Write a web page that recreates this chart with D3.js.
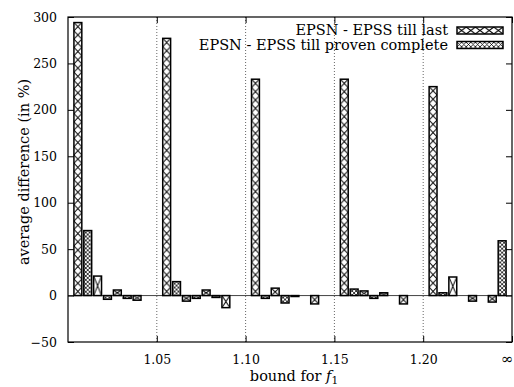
<!DOCTYPE html>
<html>
<head>
<meta charset="utf-8">
<script src="https://cdn.jsdelivr.net/npm/d3@7"></script>
<style>
body { margin: 0; background: #fff; }
text { font-family: "DejaVu Serif", "Liberation Serif", serif; fill: #000; }
</style>
</head>
<body>
<svg id="chart" width="514" height="387"></svg>
<script>
// groups along x (bound for f1), four pairs of bars in each group
var groups = ["1.05", "1.10", "1.15", "1.20", "\u221e"];
var tillLast = [
    [294, 21, 6, -5],
    [277, -6, 6, -13],
    [233, 8, -1, -9],
    [233, 5, 3, -9],
    [225, 20, -6, -7]
];
var tillProven = [
    [70, -4, -3, 0],
    [15, -3, -2, 0],
    [-3, -8, 0, 0],
    [7, -3, 0, 0],
    [3, 0, 0, 59]
];
var seriesNames = ["EPSN - EPSS till last", "EPSN - EPSS till proven complete"];
var yTicks = [-50, 0, 50, 100, 150, 200, 250, 300];

var margin = { top: 17, right: 2, bottom: 45, left: 68 };
var width = 514, height = 387;
var svg = d3.select("#chart");
var defs = svg.append("defs");

var x0 = d3.scaleBand()
    .domain(groups)
    .range([margin.left, width - margin.right])
    .padding(0);
var x1 = d3.scaleBand()
    .domain(d3.range(8))
    .range([0, x0.bandwidth()])
    .paddingInner(0.2)
    .paddingOuter(0.6);
var y = d3.scaleLinear()
    .domain([-50, 300])
    .range([height - margin.bottom, margin.top]);
// tick positions sit on the right end of each group
var xTick = d3.scalePoint()
    .domain(["start"].concat(groups))
    .range([margin.left, width - margin.right]);

var bars = [];
groups.forEach(function (g, gi) {
    for (var k = 0; k < 4; k++) {
        bars.push({ group: g, slot: 2 * k, series: 0, value: tillLast[gi][k] });
        bars.push({ group: g, slot: 2 * k + 1, series: 1, value: tillProven[gi][k] });
    }
});

function makePattern(id, px, py, w, h, series) {
    var tw = series === 0 ? w : w / 2;
    var th = series === 0 ? h : w / 2;
    var p = defs.append("pattern")
        .attr("id", id)
        .attr("patternUnits", "userSpaceOnUse")
        .attr("x", px).attr("y", py)
        .attr("width", tw).attr("height", th);
    p.append("path")
        .attr("d", "M0,0L" + tw + "," + th + "M" + tw + ",0L0," + th)
        .attr("stroke", "#000")
        .attr("stroke-width", series === 0 ? 1 : 0.8)
        .attr("fill", "none");
}

// dotted separators
svg.append("g")
    .selectAll("line")
    .data(groups.slice(0, groups.length - 1))
    .join("line")
    .attr("x1", function (d) { return xTick(d); })
    .attr("x2", function (d) { return xTick(d); })
    .attr("y1", margin.top)
    .attr("y2", height - margin.bottom)
    .attr("stroke", "#666")
    .attr("stroke-width", 1)
    .attr("stroke-dasharray", "1,2");

// zero axis
svg.append("line")
    .attr("x1", margin.left).attr("x2", width - margin.right)
    .attr("y1", y(0)).attr("y2", y(0))
    .attr("stroke", "#444")
    .attr("stroke-width", 1);

var bw = x1.bandwidth();
svg.append("g")
    .selectAll("rect")
    .data(bars.filter(function (d) { return d.value !== 0; }))
    .join("rect")
    .attr("x", function (d) { return x0(d.group) + x1(d.slot); })
    .attr("y", function (d) { return y(Math.max(0, d.value)); })
    .attr("width", bw)
    .attr("height", function (d) { return Math.abs(y(d.value) - y(0)); })
    .attr("fill", function (d, i) {
        var h = Math.abs(y(d.value) - y(0));
        var th = h < 25 ? h : h / Math.round(h / 8.3);
        makePattern("bar" + i, x0(d.group) + x1(d.slot), y(Math.max(0, d.value)), bw, th, d.series);
        return "url(#bar" + i + ")";
    })
    .attr("stroke", "#000")
    .attr("stroke-width", 1.5);

// axes, ticks pointing inward, mirrored
var yAxis = function (g) { return g
    .attr("transform", "translate(" + margin.left + ",0)")
    .call(d3.axisLeft(y).tickValues(yTicks).tickSize(-6).tickPadding(11))
    .call(function (g) { g.select(".domain").remove(); })
    .selectAll("text").style("font-size", "12.5px"); };
var yAxisRight = function (g) { return g
    .attr("transform", "translate(" + (width - margin.right) + ",0)")
    .call(d3.axisRight(y).tickValues(yTicks).tickSize(-6).tickFormat(""))
    .call(function (g) { g.select(".domain").remove(); }); };
var xAxis = function (g) { return g
    .attr("transform", "translate(0," + (height - margin.bottom) + ")")
    .call(d3.axisBottom(xTick).tickValues(groups).tickSize(-6).tickPadding(13))
    .call(function (g) { g.select(".domain").remove(); })
    .selectAll("text").style("font-size", "12.5px"); };
var xAxisTop = function (g) { return g
    .attr("transform", "translate(0," + margin.top + ")")
    .call(d3.axisTop(xTick).tickValues(groups).tickSize(-6).tickFormat(""))
    .call(function (g) { g.select(".domain").remove(); }); };

svg.append("g").call(yAxis);
svg.append("g").call(yAxisRight);
var xg = svg.append("g").call(xAxis);
svg.append("g").call(xAxisTop);
svg.selectAll(".tick line").attr("stroke", "#000");
svg.selectAll(".tick text").style("font-family", "'DejaVu Serif', serif");
// the last label sits on the right border, keep it inside the picture
xg.selectAll(".tick text")
    .filter(function (d) { return d === "\u221e"; })
    .attr("text-anchor", "end")
    .attr("x", 1)
    .attr("dy", "0.6em")
    .style("font-size", "15px");

// frame
svg.append("rect")
    .attr("x", margin.left).attr("y", margin.top)
    .attr("width", width - margin.right - margin.left)
    .attr("height", height - margin.bottom - margin.top)
    .attr("fill", "none")
    .attr("stroke", "#000")
    .attr("stroke-width", 1.2);

// legend
var legend = svg.append("g")
    .selectAll("g")
    .data(seriesNames)
    .join("g")
    .attr("transform", function (d, i) { return "translate(0," + (i * 14.5) + ")"; });
legend.append("text")
    .attr("x", 448)
    .attr("y", 35)
    .attr("text-anchor", "end")
    .style("font-size", "14.5px")
    .text(function (d) { return d; });
legend.append("rect")
    .attr("x", 457)
    .attr("y", 27)
    .attr("width", 46)
    .attr("height", 7)
    .attr("fill", function (d, i) {
        makePattern("key" + i, 457, 27 + i * 14.5, 9.2, 7, i);
        return "url(#key" + i + ")";
    })
    .attr("stroke", "#000")
    .attr("stroke-width", 1.5);

// axis titles
svg.append("text")
    .attr("transform", "translate(29,172) rotate(-90)")
    .attr("text-anchor", "middle")
    .style("font-size", "14.5px")
    .text("average difference (in %)");

var xl = svg.append("text")
    .attr("x", 294)
    .attr("y", 381)
    .attr("text-anchor", "middle")
    .style("font-size", "14.5px");
xl.append("tspan").text("bound for ");
xl.append("tspan").style("font-style", "italic").text("f");
xl.append("tspan").attr("dy", 3).style("font-size", "10.5px").text("1");
</script>
</body>
</html>
